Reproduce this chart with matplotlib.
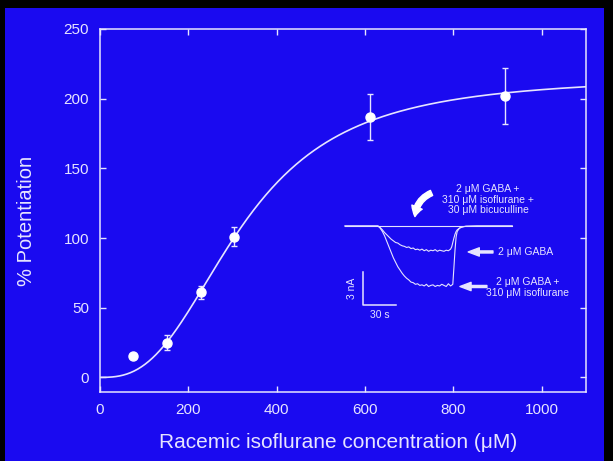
import matplotlib.pyplot as plt
import numpy as np
from matplotlib.patches import Rectangle, FancyArrowPatch

plt.rcParams['font.family'] = ['Liberation Sans', 'DejaVu Sans']

# dose-response data
conc = [75, 152, 228, 303, 611, 916]
potent = [15, 25, 61, 101, 187, 202]
err = [0, 5.5, 4.5, 7, 16.5, 20]

# Hill fit parameters
emax = 216
ec50 = 320
hill_n = 2.7

# inset current traces (time s, current nA)
t_base = [-30, 122]
i_base = [0, 0]
t_gaba = [-30, -10, 0, 2, 4, 6, 8, 10, 12, 14, 16, 18, 20, 22, 24, 26, 28, 30, 32, 34,
          36, 38, 40, 42, 44, 46, 48, 50, 52, 54, 56, 58, 60, 62, 64, 66, 67, 68, 69,
          70, 71, 72, 74, 76, 78, 80, 90, 122]
i_gaba = [0, 0, 0, -0.15, -0.35, -0.6, -0.8, -1.0, -1.2, -1.35, -1.5, -1.55, -1.7, -1.8,
          -1.85, -1.95, -1.9, -2.05, -2.0, -2.15, -2.1, -2.2, -2.1, -2.25, -2.15, -2.3,
          -2.2, -2.25, -2.15, -2.3, -2.2, -2.25, -2.3, -2.2, -2.25, -2.1, -1.9, -1.5,
          -1.1, -0.75, -0.5, -0.35, -0.2, -0.12, -0.06, -0.03, 0, 0]
t_iso = [-30, -10, 0, 2, 4, 6, 8, 10, 12, 14, 16, 18, 20, 22, 24, 26, 28, 30, 32, 34,
         36, 38, 40, 42, 44, 46, 48, 50, 52, 54, 56, 58, 60, 62, 64, 66, 68, 69, 70,
         71, 72, 74, 76, 80, 90, 122]
i_iso = [0, 0, 0, -0.2, -0.5, -0.9, -1.4, -1.9, -2.4, -2.9, -3.3, -3.7, -4.0, -4.3,
         -4.55, -4.75, -4.9, -5.1, -5.15, -5.3, -5.25, -5.4, -5.35, -5.45, -5.3, -5.5,
         -5.4, -5.35, -5.5, -5.4, -5.45, -5.3, -5.4, -5.5, -5.25, -5.45, -5.3, -3.8,
         -2.2, -1.0, -0.5, -0.2, -0.08, -0.02, 0, 0]

blue = '#1a0af0'
fg = '#e6e4ff'
W, H = 613, 461

fig = plt.figure(figsize=(W / 100, H / 100), dpi=100, facecolor='black')
fig.patches.append(Rectangle((5 / W, 0), 599 / W, (H - 8) / H, transform=fig.transFigure,
                             facecolor=blue, edgecolor='none', zorder=-10))

ax = fig.add_axes([100 / W, (H - 392) / H, 486 / W, 363 / H])
ax.set_facecolor(blue)
for s in ax.spines.values():
    s.set_color(fg)
    s.set_linewidth(1.1)

xc = np.linspace(0, 1100, 400)
ax.plot(xc, emax * xc ** hill_n / (ec50 ** hill_n + xc ** hill_n), color=fg, lw=1.2)
ax.errorbar(conc, potent, yerr=err, fmt='o', color='white', ecolor=fg, ms=6.5,
            elinewidth=1, capsize=2.5, capthick=1)

ax.set_xlim(0, 1100)
ax.set_ylim(-10.5, 250)
ax.set_xticks(range(0, 1001, 200))
ax.set_yticks(range(0, 251, 50))
ax.tick_params(direction='in', top=True, right=True, colors=fg, labelcolor=fg,
               labelsize=11, length=4, width=1, pad=8)
ax.set_xlabel('Racemic isoflurane concentration (\u03bcM)', color=fg, fontsize=15)
ax.set_ylabel('% Potentiation', color=fg, fontsize=14.5)
ax.xaxis.set_label_coords(0.49, -0.112)
ax.yaxis.set_label_coords(-0.132, 0.472)

# inset
px0, px1, py0, py1 = 340, 520, 180, 320
ins = fig.add_axes([px0 / W, (H - py1) / H, (px1 - px0) / W, (py1 - py0) / H])
ins.set_xlim((px0 - 378) / 1.1, (px1 - 378) / 1.1)
ins.set_ylim((226 - py1) / 11, (226 - py0) / 11)
ins.axis('off')
ins.patch.set_alpha(0)

ins.plot(t_base, i_base, color=fg, lw=0.8)
ins.plot(t_gaba, i_gaba, color=fg, lw=0.8)
ins.plot(t_iso, i_iso, color=fg, lw=0.8)

# scale bars
ins.plot([-13.6, -13.6, 16.4], [-4.2, -7.2, -7.2], color=fg, lw=1.1, clip_on=False)
ins.text(-23.6, -5.7, '3 nA', rotation=90, color=fg, fontsize=7.5, ha='center', va='center')
ins.text(1.5, -8.1, '30 s', color=fg, fontsize=7.5, ha='center', va='center', clip_on=False)

arrow = dict(arrowstyle='simple,head_width=0.6,head_length=0.8,tail_width=0.15',
             color=fg, shrinkA=0, shrinkB=0)
ins.annotate('', xy=(82, -2.36), xytext=(104.5, -2.36), arrowprops=arrow)
ins.text(109, -2.36, '2 \u03bcM GABA', color=fg, fontsize=7.5, ha='left', va='center')
ins.annotate('', xy=(74.5, -5.5), xytext=(99, -5.5), arrowprops=arrow)
ins.text(136, -5.6, '2 \u03bcM GABA +\n310 \u03bcM isoflurane', color=fg, fontsize=7.5,
         ha='center', va='center', linespacing=1.1)
ins.text(100, 2.4, '2 \u03bcM GABA +\n310 \u03bcM isoflurane +\n30 \u03bcM bicuculline',
         color=fg, fontsize=7.5, ha='center', va='center', linespacing=1.1)
ins.add_patch(FancyArrowPatch((51, 3.1), (33.5, 0.6), connectionstyle='arc3,rad=0.35',
                              arrowstyle='simple,head_width=8,head_length=7,tail_width=4',
                              color='white', mutation_scale=1))

fig.savefig('out.png', dpi=100, facecolor='black')
